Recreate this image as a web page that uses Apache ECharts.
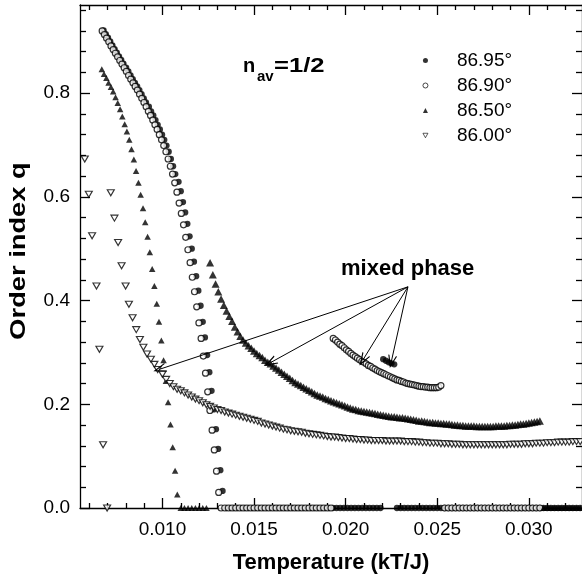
<!DOCTYPE html>
<html>
<head>
<meta charset="utf-8">
<script src="https://cdn.jsdelivr.net/npm/echarts@6/dist/echarts.min.js"></script>
<style>html,body{margin:0;padding:0;background:#fff}#c{width:582px;height:582px}</style>
</head>
<body>
<div id="c"></div>
<script>
// ---------------- data ----------------
const seriesNames = ['86.95°', '86.90°', '86.50°', '86.00°'];
const xMajorTicks = [0.010, 0.015, 0.020, 0.025, 0.030];
const xMinorTicks = [0.006,0.007,0.008,0.009,0.011,0.012,0.013,0.014,0.016,0.017,0.018,0.019,0.021,0.022,0.023,0.024,0.026,0.027,0.028,0.029,0.031,0.032];
const yMajorTicks = [0, 0.2, 0.4, 0.6, 0.8];
const yMinorTicks = [0.04,0.08,0.12,0.16,0.24,0.28,0.32,0.36,0.44,0.48,0.52,0.56,0.64,0.68,0.72,0.76,0.84,0.88,0.92,0.96];

// 86.95 (filled circles)
const q8695Upper = [[.00679,.921],[.00691,.914],[.00703,.907],[.00715,.900],[.00727,.892],[.00739,.885],[.00751,.878],[.00763,.871],[.00775,.864],[.00787,.857],
 [.00802,.849],[.00814,.842],[.00826,.834],[.00838,.827],[.00850,.820],[.00862,.813],[.00874,.806],[.00886,.798],[.00898,.790],[.00910,.782],
 [.00926,.774],[.00938,.765],[.00950,.757],[.00962,.748],[.00974,.739],[.00986,.730],[.00998,.720],[.01010,.710],[.01022,.699],[.01034,.687],[.01046,.673],[.01058,.659],[.01070,.644],
 [.01088,.629],[.01100,.611],[.01112,.590],[.01124,.570],[.01136,.548],[.01148,.524],[.01160,.500],[.01172,.475],[.01184,.447],[.01196,.419],[.01208,.390],
 [.01220,.359],[.01232,.329],[.01244,.295],[.01256,.262],[.01268,.226],[.01280,.190],[.01292,.152],[.01304,.114],[.01316,.073],[.01328,.033]];
const t8695ZeroA = [.0135,.0137,.0139,.0141,.0143,.0145,.0147,.0149,.0151,.0153,.0155,.0157,.0159,.0161,.0163,.0165,.0167,.0169,.0171,.0173,.0175,.0177,.0179,.0181,.0183,.0185,.0187,.0189,.0191,.0193,.0195,.0197,.0199,.0201,.0203,.0205,.0207,.0209,.0211,.0213,.0215,.0217,.0219];
const q8695Mixed = [[.02205,.287],[.0222,.284],[.02235,.281],[.0225,.279],[.02265,.277]];
const t8695ZeroB = [.0228,.0230,.0232,.0234,.0236,.0238,.0240,.0242,.0244,.0246,.0248,.0250,.0252,.0254,.0256,.0258,.0260,.0262,.0264,.0266,.0268,.0270,.0272,.0274,.0276,.0278,.0280,.0282,.0284,.0286,.0288,.0290,.0292,.0294,.0296,.0298,.0300,.0302,.0304,.0306,.0308,.0310,.0312,.0314,.0316,.0318,.0320,.0322,.0324,.0326,.0328];

// 86.90 (open circles)
const q8690Upper = [[.00671,.920],[.00683,.913],[.00695,.906],[.00707,.899],[.00719,.891],[.00731,.884],[.00743,.877],[.00755,.870],[.00767,.863],[.00779,.856],
 [.00791,.849],[.00803,.842],[.00815,.834],[.00827,.827],[.00839,.820],[.00851,.813],[.00863,.806],[.00875,.798],[.00887,.790],[.00899,.782],
 [.00911,.774],[.00923,.765],[.00935,.757],[.00947,.748],[.00959,.739],[.00971,.730],[.00983,.720],[.00995,.710],[.01007,.699],[.01019,.687],[.01031,.673],[.01043,.659],[.01055,.644],
 [.01067,.627],[.01079,.609],[.01091,.588],[.01103,.568],[.01115,.546],[.01127,.522],[.01139,.498],[.01151,.473],[.01163,.445],[.01175,.417],[.01187,.388],
 [.01199,.357],[.01211,.327],[.01223,.293],[.01235,.260],[.01247,.224],[.01259,.188],[.01271,.150],[.01283,.112],[.01295,.071],[.01307,.030]];
const t8690ZeroA = [.0132,.0134,.0136,.0138,.0140,.0142,.0144,.0146,.0148,.0150,.0152,.0154,.0156,.0158,.0160,.0162,.0164,.0166,.0168,.0170,.0172,.0174,.0176,.0178,.0180,.0182,.0184,.0186,.0188,.0190,.0192];
const q8690Mixed = [[.01932,.327],[.01944,.324],[.01956,.320],[.01968,.316],[.01980,.313],[.01992,.309],[.02004,.305],[.02016,.302],[.02028,.298],[.02040,.295],
 [.02052,.292],[.02064,.289],[.02076,.286],[.02088,.283],[.02100,.281],[.02112,.278],[.02124,.275],[.02136,.273],[.02148,.270],[.02160,.268],
 [.02172,.265],[.02184,.263],[.02196,.261],[.02208,.259],[.02220,.257],[.02232,.255],[.02244,.253],[.02256,.251],[.02268,.249],[.02280,.247],
 [.02292,.246],[.02304,.244],[.02316,.243],[.02328,.241],[.02340,.240],[.02352,.239],[.02364,.238],[.02376,.237],[.02388,.236],[.02400,.235],
 [.02412,.234],[.02424,.234],[.02436,.233],[.02448,.233],[.02460,.232],[.02472,.232],[.02484,.232],[.02496,.232],[.02508,.233],[.02520,.236]];
const t8690ZeroB = [.0254,.0256,.0258,.0260,.0262,.0264,.0266,.0268,.0270,.0272,.0274,.0276,.0278,.0280,.0282,.0284,.0286,.0288,.0290,.0292,.0294,.0296,.0298,.0300,.0302,.0304,.0306];

// 86.50 (filled triangles)
const q8650Upper = [[.00669,.846],[.00681,.837],[.00694,.829],[.00706,.820],[.00719,.812],[.00731,.803],[.00744,.792],[.00756,.781],[.00769,.769],[.00781,.755],
 [.00794,.740],[.00806,.726],[.00819,.710],[.00831,.692],[.00844,.672],[.00856,.650],[.00869,.627],[.00881,.604],[.00894,.578],[.00906,.551],
 [.00919,.523],[.00931,.493],[.00944,.461],[.00956,.428],[.00969,.394],[.00981,.359],[.00994,.323],[.01006,.285],[.01019,.245],[.01031,.204],
 [.01044,.161],[.01056,.117],[.01069,.072],[.01081,.026]];
const t8650ZeroA = [.0110,.0112,.0114,.0116,.0118,.0120,.0122,.0124];
const q8650Mixed = [[.01260,.473],[.01275,.450],[.01290,.432],[.01305,.417],[.01320,.403],[.01335,.391],[.01350,.380],[.01365,.370],[.01380,.360],[.01395,.349],
 [.01410,.340],[.01425,.331],[.01440,.324],[.01455,.318],[.01470,.313],[.01485,.308],[.01500,.303],[.01515,.298],[.01530,.294],[.01545,.290],
 [.01560,.285],[.01575,.281],[.01590,.278],[.01605,.274],[.01620,.270],[.01635,.266],[.01650,.262],[.01665,.258],[.01680,.254],[.01695,.250],
 [.01710,.246],[.01725,.242],[.01740,.239],[.01755,.236],[.01770,.233],[.01785,.230],[.01800,.227],[.01815,.224],[.01830,.221],[.01845,.218],
 [.01860,.216],[.01875,.214],[.01890,.211],[.01905,.209],[.01920,.207],[.01935,.205],[.01950,.203],[.01965,.201],[.01980,.199],[.01995,.197],
 [.02010,.195],[.02025,.193],[.02040,.191],[.02055,.190],[.02070,.188],[.02085,.187],[.02100,.186],[.02115,.185],[.02130,.184],[.02145,.183],
 [.02160,.182],[.02175,.181],[.02190,.180],[.02205,.179],[.02220,.178],[.02235,.177],[.02250,.176],[.02265,.176],[.02280,.175],[.02295,.174],
 [.02310,.174],[.02325,.173],[.02340,.172],[.02355,.171],[.02370,.170],[.02385,.169],[.02400,.168],[.02415,.168],[.02430,.167],[.02445,.166],
 [.02460,.165],[.02475,.165],[.02490,.164],[.02505,.164],[.02520,.163],[.02535,.163],[.02550,.162],[.02565,.162],[.02580,.161],[.02595,.160],
 [.02610,.160],[.02625,.159],[.02640,.159],[.02655,.158],[.02670,.158],[.02685,.158],[.02700,.158],[.02715,.157],[.02730,.157],[.02745,.157],
 [.02760,.157],[.02775,.157],[.02790,.157],[.02805,.157],[.02820,.158],[.02835,.158],[.02850,.158],[.02865,.158],[.02880,.159],[.02895,.159],
 [.02910,.160],[.02925,.160],[.02940,.161],[.02955,.162],[.02970,.162],[.02985,.163],[.03000,.164],[.03015,.165],[.03030,.166],[.03045,.167],[.03060,.168]];
const t8650ZeroB = [.0308,.0310,.0312,.0314,.0316,.0318,.0320,.0322,.0324,.0326,.0328];

// 86.00 (open inverted triangles)
const q8600Left = [[.00576,.673],[.00598,.605],[.00616,.525],[.00640,.428],[.00656,.306],[.00676,.122],[.00698,0]];
const q8600Upper = [[.00718,.608],[.00738,.559],[.00758,.512],[.00777,.467],[.00799,.428],[.00817,.393],[.00837,.367],[.00857,.344],[.00877,.325],[.00896,.310],
 [.00916,.297],[.00937,.287],[.00956,.277],[.00974,.267]];
const q8600Tail = [[.0100,.258],[.0102,.248],[.0104,.240],[.0106,.234],[.0108,.229],[.0110,.226],[.0112,.222],[.0114,.218],[.0116,.214],[.0118,.210],
 [.0120,.207],[.0122,.203],[.0124,.199],[.0126,.196],[.0128,.193],[.0130,.190],[.0132,.188],[.0134,.185],[.0136,.183],[.0138,.181],
 [.0140,.179],[.0142,.177],[.0144,.175],[.0146,.173],[.0148,.171],[.0150,.169],[.0152,.167],[.0154,.164],[.0156,.162],[.0158,.160],
 [.0160,.158],[.0162,.156],[.0164,.154],[.0166,.152],[.0168,.151],[.0170,.149],[.0172,.148],[.0174,.147],[.0176,.146],[.0178,.144],
 [.0180,.143],[.0182,.142],[.0184,.141],[.0186,.140],[.0188,.139],[.0190,.138],[.0192,.137],[.0194,.137],[.0196,.136],[.0198,.135],
 [.0200,.134],[.0202,.134],[.0204,.133],[.0206,.132],[.0208,.132],[.0210,.131],[.0212,.131],[.0214,.130],[.0216,.130],[.0218,.130],
 [.0220,.130],[.0222,.129],[.0224,.129],[.0226,.129],[.0228,.129],[.0230,.129],[.0232,.128],[.0234,.128],[.0236,.128],[.0238,.127],
 [.0240,.127],[.0242,.126],[.0244,.126],[.0246,.125],[.0248,.125],[.0250,.125],[.0252,.124],[.0254,.124],[.0256,.124],[.0258,.123],
 [.0260,.123],[.0262,.123],[.0264,.122],[.0266,.122],[.0268,.122],[.0270,.122],[.0272,.122],[.0274,.122],[.0276,.122],[.0278,.122],
 [.0280,.122],[.0282,.122],[.0284,.122],[.0286,.122],[.0288,.122],[.0290,.123],[.0292,.123],[.0294,.123],[.0296,.123],[.0298,.124],
 [.0300,.124],[.0302,.124],[.0304,.125],[.0306,.125],[.0308,.125],[.0310,.126],[.0312,.126],[.0314,.126],[.0316,.127],[.0318,.127],
 [.0320,.127],[.0322,.127],[.0324,.128],[.0326,.128],[.0328,.128]];

// "mixed phase" arrows: [from, to] in data units
const arrowFrom = [0.0234, 0.4265];
const arrowTargets = [[0.00984, 0.2675], [0.01589, 0.2802], [0.02094, 0.2854], [0.02249, 0.2820]];

// ---------------- chart ----------------
const FONT = "'Liberation Sans', Arial, Helvetica, sans-serif";
const zeroRow = ts => ts.map(t => [t, 0]);
const AX = {color: '#000', width: 1.3};
const XMIN = 0.0055, XMAX = 0.0329, YMIN = 0, YMAX = 0.97;
const INV_TRI = 'path://M0,0L10,0L5,9Z';

function xAxisDef(pos, ticks, len, extra) {
  return Object.assign({
    type: 'value', gridIndex: 0, position: pos, min: XMIN, max: XMAX,
    axisLine: {show: true, onZero: false, lineStyle: AX},
    axisTick: {show: true, inside: true, length: len, customValues: ticks, lineStyle: AX},
    axisLabel: {show: false}, splitLine: {show: false}
  }, extra || {});
}
function yAxisDef(pos, ticks, len, extra) {
  return Object.assign({
    type: 'value', gridIndex: 0, position: pos, min: YMIN, max: YMAX,
    axisLine: {show: true, onZero: false, lineStyle: AX},
    axisTick: {show: true, inside: true, length: len, customValues: ticks, lineStyle: AX},
    axisLabel: {show: false}, splitLine: {show: false}
  }, extra || {});
}

const arrowPath = 'path://M0,12L5,0L10,12L8.7,12L5,3.2L1.3,12Z';

const option = {
  animation: false,
  backgroundColor: '#fff',
  textStyle: {fontFamily: FONT},
  grid: {left: 80, top: 5, width: 503, height: 503, containLabel: false},
  xAxis: [
    xAxisDef('bottom', xMajorTicks, 10, {
      axisLabel: {show: true, customValues: xMajorTicks, formatter: v => v.toFixed(3),
        fontSize: 19, color: '#000', fontFamily: FONT, margin: 12},
      name: 'Temperature (kT/J)', nameLocation: 'middle', nameGap: 44,
      nameTextStyle: {fontSize: 22, fontWeight: 'bold', color: '#000', fontFamily: FONT}
    }),
    xAxisDef('bottom', xMinorTicks, 5, {axisLine: {show: false, onZero: false}}),
    xAxisDef('top', xMajorTicks, 10),
    xAxisDef('top', xMinorTicks, 5, {axisLine: {show: false, onZero: false}})
  ],
  yAxis: [
    yAxisDef('left', yMajorTicks, 10, {
      axisLabel: {show: true, customValues: yMajorTicks, formatter: v => v.toFixed(1),
        fontSize: 19, color: '#000', fontFamily: FONT, margin: 10}
    }),
    yAxisDef('left', yMinorTicks, 6, {axisLine: {show: false, onZero: false}}),
    yAxisDef('right', yMajorTicks, 10),
    yAxisDef('right', yMinorTicks, 6, {axisLine: {show: false, onZero: false}})
  ],
  legend: {
    data: [
      {name: seriesNames[0], icon: 'circle', itemStyle: {color: '#000', borderWidth: 0}},
      {name: seriesNames[1], icon: 'circle', itemStyle: {color: '#fff', borderColor: '#000', borderWidth: 0.9}},
      {name: seriesNames[2], icon: 'triangle', itemStyle: {color: '#000', borderWidth: 0}},
      {name: seriesNames[3], icon: INV_TRI, itemStyle: {color: '#fff', borderColor: '#000', borderWidth: 0.8}}
    ],
    orient: 'vertical', left: 422.5, top: 50.5, padding: 0,
    itemWidth: 5, itemHeight: 5, itemGap: 5, selectedMode: false,
    formatter: n => '{s|\u00a0}{t|' + n + '}',
    textStyle: {color: '#000', fontFamily: FONT, fontSize: 19, lineHeight: 20,
      rich: {s: {width: 24, fontSize: 19, lineHeight: 20}, t: {fontSize: 19, lineHeight: 20, color: '#000', fontFamily: FONT}}}
  },
  graphic: [
    {type: 'text', x: 19, y: 251, rotation: Math.PI / 2, scaleX: 1.24, silent: true,
      style: {text: 'Order index q', font: 'bold 22px ' + FONT, fill: '#000', align: 'center', verticalAlign: 'middle'}},
    {type: 'text', x: 243, y: 66.5, silent: true,
      style: {text: 'n', font: 'bold 20px ' + FONT, fill: '#000', verticalAlign: 'middle'}},
    {type: 'text', x: 257, y: 77, silent: true,
      style: {text: 'av', font: 'bold 15px ' + FONT, fill: '#000', verticalAlign: 'middle'}},
    {type: 'text', x: 274, y: 66.5, scaleX: 1.28, silent: true,
      style: {text: '=1/2', font: 'bold 20px ' + FONT, fill: '#000', verticalAlign: 'middle'}},
    {type: 'text', x: 341, y: 269, silent: true,
      style: {text: 'mixed phase', font: 'bold 22px ' + FONT, fill: '#000', verticalAlign: 'middle'}}
  ],
  series: [
    {name: seriesNames[0], type: 'scatter', xAxisIndex: 0, yAxisIndex: 0, clip: false,
      symbol: 'circle', symbolSize: 6.3, itemStyle: {color: '#000'}, emphasis: {disabled: true},
      data: [].concat(q8695Upper, zeroRow(t8695ZeroA), q8695Mixed, zeroRow(t8695ZeroB))},
    {name: seriesNames[1], type: 'scatter', xAxisIndex: 0, yAxisIndex: 0, clip: false,
      symbol: 'circle', symbolSize: 6, itemStyle: {color: '#fff', borderColor: '#000', borderWidth: 1.2}, emphasis: {disabled: true},
      data: [].concat(q8690Upper, zeroRow(t8690ZeroA), q8690Mixed, zeroRow(t8690ZeroB))},
    {name: seriesNames[2], type: 'scatter', xAxisIndex: 0, yAxisIndex: 0, clip: false,
      symbol: 'triangle', symbolSize: [6.5, 6], itemStyle: {color: '#000'}, emphasis: {disabled: true},
      data: [].concat(q8650Upper, zeroRow(t8650ZeroA), zeroRow(t8650ZeroB))},
    {name: seriesNames[2], type: 'scatter', xAxisIndex: 0, yAxisIndex: 0, clip: false,
      symbol: 'triangle', symbolSize: [8, 7.5], itemStyle: {color: '#000'}, emphasis: {disabled: true},
      data: q8650Mixed},
    {name: seriesNames[3], type: 'scatter', xAxisIndex: 0, yAxisIndex: 0, clip: false,
      symbol: INV_TRI, symbolSize: [7, 6],
      itemStyle: {color: '#fff', borderColor: '#000', borderWidth: 1.15}, emphasis: {disabled: true},
      data: [].concat(q8600Left, q8600Upper, q8600Tail),
      markLine: {
        silent: true, animation: false, symbol: ['none', arrowPath], symbolSize: [9, 13],
        lineStyle: {color: '#000', width: 1, type: 'solid'}, label: {show: false},
        emphasis: {disabled: true},
        data: arrowTargets.map(t => [{coord: arrowFrom}, {coord: t}])
      }}
  ]
};

const chart = echarts.init(document.getElementById('c'), null, {renderer: 'canvas'});
chart.setOption(option);
</script>
</body>
</html>
